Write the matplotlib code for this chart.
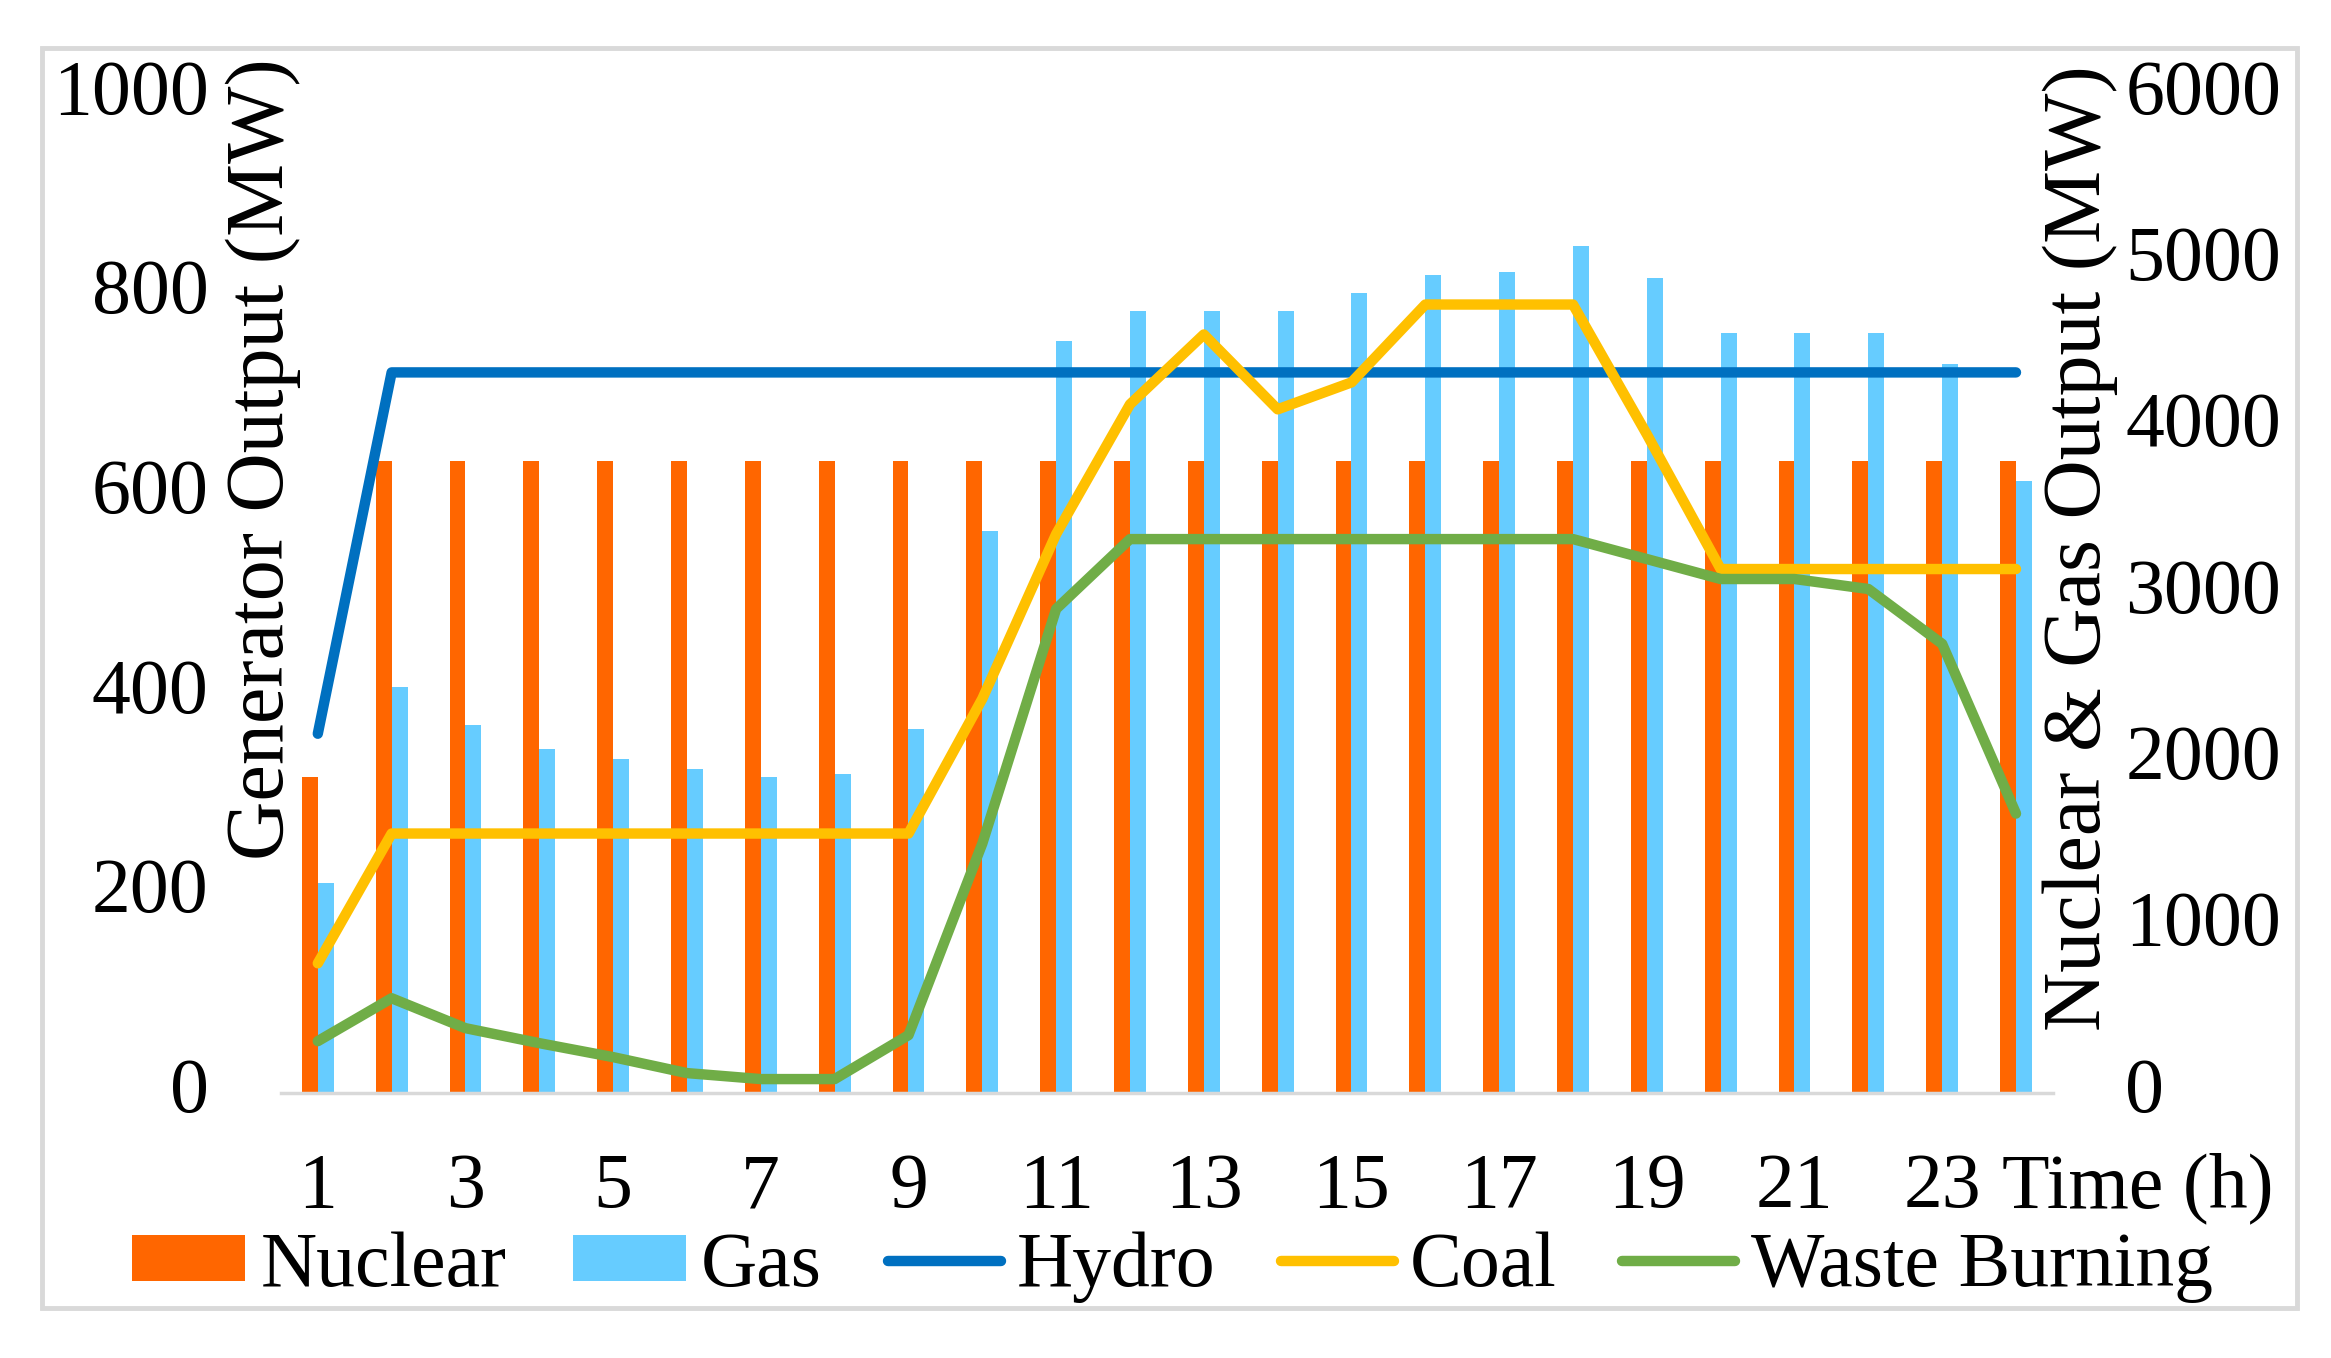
import numpy as np
import matplotlib
matplotlib.use("Agg")
import matplotlib.pyplot as plt
from matplotlib.patches import Rectangle

plt.rcParams['font.family'] = ['Liberation Serif', 'DejaVu Serif']

# hourly generator output (MW)
hours = [1, 2, 3, 4, 5, 6, 7, 8, 9, 10, 11, 12, 13, 14, 15, 16, 17, 18, 19, 20, 21, 22, 23, 24]
nuclear = [1900, 3800, 3800, 3800, 3800, 3800, 3800, 3800, 3800, 3800, 3800, 3800,
           3800, 3800, 3800, 3800, 3800, 3800, 3800, 3800, 3800, 3800, 3800, 3800]
gas = [1260, 2440, 2210, 2070, 2010, 1950, 1900, 1920, 2190, 3380, 4520, 4700,
       4700, 4700, 4810, 4915, 4935, 5090, 4900, 4570, 4570, 4570, 4385, 3680]
hydro = [360, 722, 722, 722, 722, 722, 722, 722, 722, 722, 722, 722,
         722, 722, 722, 722, 722, 722, 722, 722, 722, 722, 722, 722]
coal = [130, 260, 260, 260, 260, 260, 260, 260, 260, 395, 560, 690,
        760, 685, 712, 790, 790, 790, 660, 525, 525, 525, 525, 525]
waste = [52, 95, 65, 50, 36, 20, 14, 14, 58, 250, 485, 555,
         555, 555, 555, 555, 555, 555, 535, 515, 515, 505, 450, 280]
xtick_hours = [1, 3, 5, 7, 9, 11, 13, 15, 17, 19, 21, 23]

FS = 56
TITLE_FS = 59
fig = plt.figure(figsize=(23.31, 13.58), dpi=100)
ax = fig.add_axes([0.1205, 0.1951, 0.7602, 0.7350])
ax2 = ax.twinx()

x = np.array(hours)
bw = 0.215
ax2.bar(x - bw / 2, nuclear, width=bw, color='#FF6600', label='Nuclear')
ax2.bar(x + bw / 2, gas, width=bw, color='#66CCFF', label='Gas')

lw = 7.5
line_kw = dict(linewidth=lw, solid_capstyle='round', solid_joinstyle='round')
ax.plot(x, hydro, color='#0070C0', label='Hydro', **line_kw)
ax.plot(x, coal, color='#FFC000', label='Coal', **line_kw)
ax.plot(x, waste, color='#70AD47', label='Waste Burning', **line_kw)

# lines above the bars
ax.set_zorder(ax2.get_zorder() + 1)
ax.patch.set_visible(False)

ax.set_xlim(0.5, 24.5)
ax.set_ylim(0, 1000)
ax2.set_ylim(0, 6000)
ax.set_yticks(range(0, 1001, 200))
ax2.set_yticks(range(0, 6001, 1000))
ax.set_xticks(xtick_hours)

for a in (ax, ax2):
    for s in a.spines.values():
        s.set_visible(False)
ax.spines['bottom'].set_visible(True)
ax.spines['bottom'].set_color('#D9D9D9')
ax.spines['bottom'].set_linewidth(2.5)

ax.tick_params(axis='y', length=0, pad=52, labelsize=FS)
ax.tick_params(axis='x', length=0, pad=43, labelsize=FS)
ax2.tick_params(axis='y', length=0, pad=52, labelsize=FS)
for lab in ax.get_yticklabels() + ax2.get_yticklabels():
    lab.set_verticalalignment('center')

fig.text(0.1128, 0.662, 'Generator Output (MW)', rotation=90,
         ha='center', va='center', fontsize=TITLE_FS)
fig.text(0.8923, 0.5965, 'Nuclear & Gas Output (MW)', rotation=90,
         ha='center', va='center', fontsize=TITLE_FS)
fig.text(0.9172, 0.1112, 'Time (h)', ha='center', va='baseline', fontsize=FS)

h1, l1 = ax2.get_legend_handles_labels()
h2, l2 = ax.get_legend_handles_labels()
fig.legend(h1 + h2, l1 + l2, loc='center', bbox_to_anchor=(0.503, 0.067),
           ncol=5, frameon=False, fontsize=FS, handlelength=1.45,
           handleheight=0.53, handletextpad=0.2, columnspacing=0.85,
           borderpad=0, borderaxespad=0)

# outer chart border
fig.patches.append(Rectangle((0.018, 0.0368), 0.9674, 0.928, transform=fig.transFigure,
                             fill=False, edgecolor='#D9D9D9', linewidth=3.5))

fig.savefig('out.png', dpi=100)
